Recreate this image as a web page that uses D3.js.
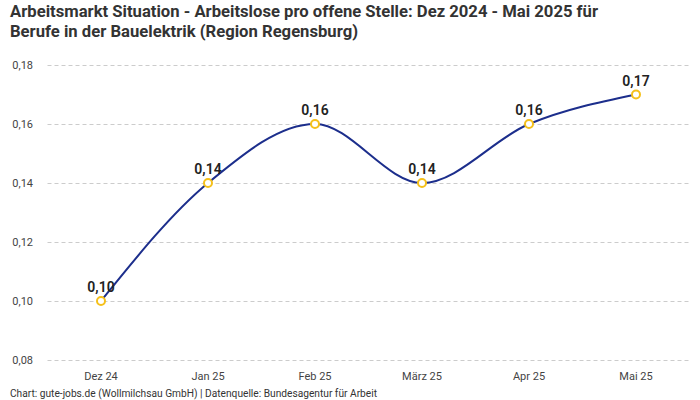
<!DOCTYPE html>
<html>
<head>
<meta charset="utf-8">
<script src="https://cdn.jsdelivr.net/npm/d3@7"></script>
<style>
  body { margin: 0; background: #fff; }
  svg { font-family: Roboto, "Open Sans", sans-serif; }
</style>
</head>
<body>
<div id="chart"></div>
<script>
var months = ["Dez 24", "Jan 25", "Feb 25", "März 25", "Apr 25", "Mai 25"];
var values = [0.10, 0.14, 0.16, 0.14, 0.16, 0.17];
var yTicks = [0.08, 0.10, 0.12, 0.14, 0.16, 0.18];
var titleLines = [
  "Arbeitsmarkt Situation - Arbeitslose pro offene Stelle: Dez 2024 - Mai 2025 für",
  "Berufe in der Bauelektrik (Region Regensburg)"
];
var footer = "Chart: gute-jobs.de (Wollmilchsau GmbH) | Datenquelle: Bundesagentur für Arbeit";

var w = 700, h = 400;
var marg = { top: 65, right: 10, bottom: 40, left: 47.5 };

var svg = d3.select("#chart").append("svg")
  .attr("width", w).attr("height", h);

var fmt = function(d) { return d3.format(".2f")(d).replace(".", ","); };

var x = d3.scalePoint()
  .domain(months)
  .range([marg.left, w - marg.right - 0.5])
  .padding(0.5);

var y = d3.scaleLinear()
  .domain([0.08, 0.18])
  .range([h - marg.bottom, marg.top]);

// title
svg.append("g").selectAll("text")
  .data(titleLines).enter().append("text")
  .attr("x", 10)
  .attr("y", function(d, i) { return 17 + i * 20; })
  .attr("font-size", 16.5)
  .attr("font-weight", "bold")
  .attr("fill", "#333")
  .attr("textLength", function(d, i) { return i == 0 ? 588 : 348; })
  .attr("lengthAdjust", "spacingAndGlyphs")
  .text(function(d) { return d; });

// grid
svg.append("g").selectAll("line")
  .data(yTicks).enter().append("line")
  .attr("x1", marg.left).attr("x2", w - marg.right)
  .attr("y1", function(d) { return Math.round(y(d)) + 0.5; })
  .attr("y2", function(d) { return Math.round(y(d)) + 0.5; })
  .attr("stroke", "#ccc")
  .attr("stroke-dasharray", "4,3");

// y labels
svg.append("g").selectAll("text")
  .data(yTicks).enter().append("text")
  .attr("x", 33)
  .attr("y", function(d) { return y(d); })
  .attr("dy", "0.35em")
  .attr("text-anchor", "end")
  .attr("font-size", 11)
  .attr("fill", "#444")
  .text(fmt);

// x labels
svg.append("g").selectAll("text")
  .data(months).enter().append("text")
  .attr("x", function(d) { return x(d); })
  .attr("y", 380)
  .attr("text-anchor", "middle")
  .attr("font-size", 11)
  .attr("fill", "#444")
  .text(function(d) { return d; });

var pts = months.map(function(m, i) { return { m: m, v: values[i] }; });

var line = d3.line()
  .x(function(d) { return x(d.m); })
  .y(function(d) { return y(d.v); })
  .curve(d3.curveMonotoneX);

svg.append("path")
  .datum(pts)
  .attr("d", line)
  .attr("fill", "none")
  .attr("stroke", "#1c2e8c")
  .attr("stroke-width", 2);

svg.append("g").selectAll("circle")
  .data(pts).enter().append("circle")
  .attr("cx", function(d) { return x(d.m); })
  .attr("cy", function(d) { return y(d.v); })
  .attr("r", 4)
  .attr("fill", "#fff")
  .attr("stroke", "#f5c01a")
  .attr("stroke-width", 2);

svg.append("g").selectAll("text")
  .data(pts).enter().append("text")
  .attr("x", function(d) { return x(d.m); })
  .attr("y", function(d) { return y(d.v) - 9; })
  .attr("text-anchor", "middle")
  .attr("font-size", 14)
  .attr("font-weight", 600)
  .attr("fill", "#222")
  .text(function(d) { return fmt(d.v); });

svg.append("text")
  .attr("x", 10).attr("y", 397)
  .attr("font-size", 10)
  .attr("fill", "#333")
  .attr("textLength", 367)
  .attr("lengthAdjust", "spacingAndGlyphs")
  .text(footer);
</script>
</body>
</html>
